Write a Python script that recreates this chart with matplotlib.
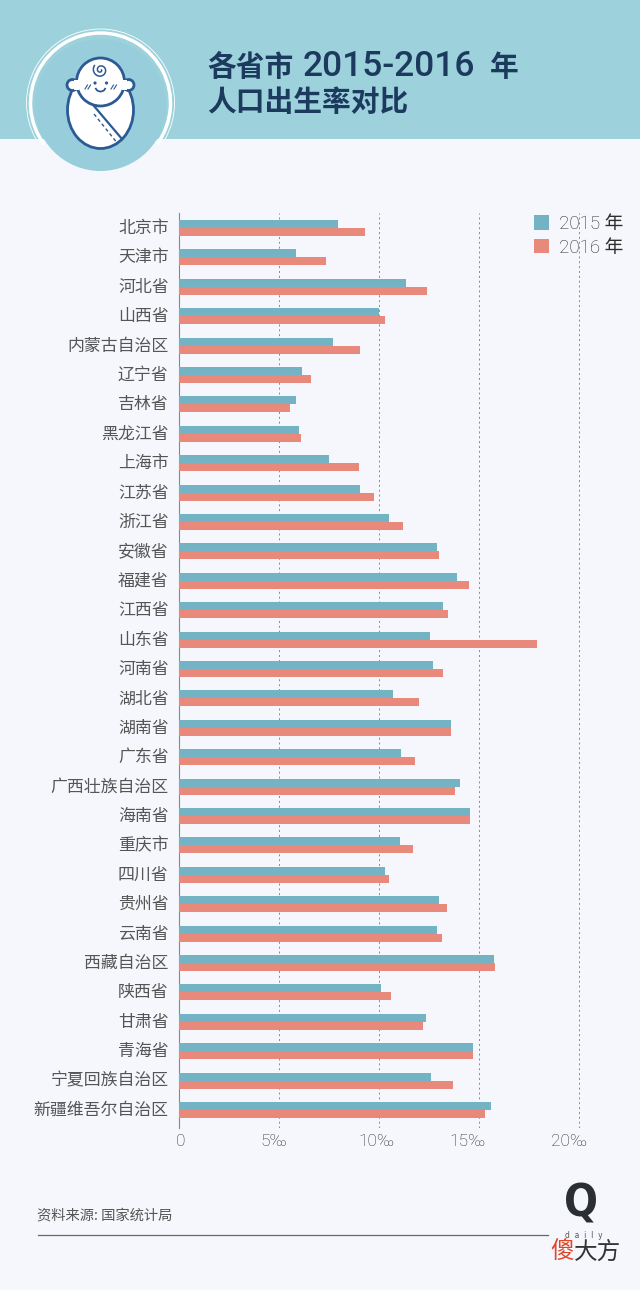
import numpy as np
import matplotlib
matplotlib.use("Agg")
import matplotlib.pyplot as plt
from matplotlib.patches import Rectangle, Circle, Ellipse, Arc
from matplotlib.transforms import ScaledTranslation

plt.rcParams['font.family'] = ['Noto Sans CJK SC', 'DejaVu Sans']

provinces = ["北京市", "天津市", "河北省", "山西省", "内蒙古自治区", "辽宁省", "吉林省", "黑龙江省",
             "上海市", "江苏省", "浙江省", "安徽省", "福建省", "江西省", "山东省", "河南省",
             "湖北省", "湖南省", "广东省", "广西壮族自治区", "海南省", "重庆市", "四川省", "贵州省",
             "云南省", "西藏自治区", "陕西省", "甘肃省", "青海省", "宁夏回族自治区", "新疆维吾尔自治区"]
rate_2015 = [7.95, 5.83, 11.35, 10.0, 7.72, 6.17, 5.87, 6.0, 7.5, 9.05, 10.5, 12.9, 13.9, 13.2, 12.55, 12.7,
             10.7, 13.6, 11.1, 14.05, 14.55, 11.05, 10.3, 13.0, 12.9, 15.75, 10.1, 12.35, 14.7, 12.6, 15.6]
rate_2016 = [9.3, 7.35, 12.4, 10.3, 9.03, 6.6, 5.55, 6.1, 9.0, 9.75, 11.2, 13.0, 14.5, 13.45, 17.9, 13.2,
             12.0, 13.6, 11.8, 13.8, 14.55, 11.7, 10.5, 13.4, 13.15, 15.8, 10.6, 12.2, 14.7, 13.7, 15.3]
tick_values = [0, 5, 10, 15, 20]
tick_labels = ["0", "5‰", "10‰", "15‰", "20‰"]

BG = "#F5F7FD"
HEADER = "#9DD1DC"
NAVY = "#1C3A5E"
TEAL = "#74B3C3"
SALMON = "#E8897C"
GREY = "#555555"
DARK = "#2E2E2E"
INK = "#2C5A94"
X0 = 179

W, H = 640, 1290
fig = plt.figure(figsize=(W / 100, H / 100), dpi=100, facecolor=BG)

# pixel canvas for the header and footer artwork
bg = fig.add_axes([0, 0, 1, 1], zorder=0)
bg.set_xlim(0, W)
bg.set_ylim(H, 0)
bg.axis("off")
bg.add_patch(Rectangle((0, 0), W, 139, color=HEADER, lw=0))

# baby badge
bg.add_patch(Circle((100.5, 105), 66, color="#98CEDB", lw=0))
bg.add_patch(Arc((100.5, 103), 140, 140, theta1=144, theta2=396, color="white", lw=2.5))
bg.add_patch(Arc((100.5, 103), 148, 148, theta1=150, theta2=390, color="white", lw=0.6))
bg.add_patch(Ellipse((100.5, 110), 66, 77, fc="white", ec=INK, lw=2))
bg.plot([94, 122], [106, 139], color=INK, lw=1.6)
bg.plot([94, 118], [114, 144], color=INK, lw=1, ls=(0, (2.5, 2)))
for ex in (72.5, 128.5):
    bg.add_patch(Circle((ex, 85), 5.5, fc="white", ec=INK, lw=2))
bg.add_patch(Circle((100.5, 82), 24, fc="white", ec=INK, lw=2))
bg.add_patch(Rectangle((74, 80), 5, 10, color="white", lw=0, zorder=3))
bg.add_patch(Rectangle((122, 80), 5, 10, color="white", lw=0, zorder=3))
bg.add_patch(Circle((95, 83), 1.6, color=INK, lw=0, zorder=4))
bg.add_patch(Circle((106.5, 83), 1.6, color=INK, lw=0, zorder=4))
bg.add_patch(Arc((100.5, 87), 10, 9, theta1=10, theta2=170, color=INK, lw=1.3, zorder=4))
t = np.linspace(0, 3.2 * np.pi, 60)
bg.plot(100.5 + (1 + 0.65 * t) * np.cos(t), 70 + (1 + 0.65 * t) * np.sin(t), color=INK, lw=1.1, zorder=4)
for sx in (85, 111):
    bg.plot([sx, sx + 2.5], [89, 85], color=INK, lw=0.8, zorder=4)
    bg.plot([sx + 3, sx + 5.5], [89, 85], color=INK, lw=0.8, zorder=4)

# the title mixes wide latin digits with CJK, so it is set in three runs
bg.text(207, 67, "各省市", fontsize=20.7, fontweight="bold", color=NAVY, va="center", ha="left")
bg.text(303, 66, "2015-2016", fontsize=25.5, fontweight="medium", color=NAVY, va="center", ha="left",
        family=["Roboto", "DejaVu Sans"])
bg.text(490, 67, "年", fontsize=20.7, fontweight="bold", color=NAVY, va="center", ha="left")
bg.text(207, 102, "人口出生率对比", fontsize=20.7, fontweight="bold", color=NAVY, va="center", ha="left")

# footer
bg.text(37, 1216, "资料来源: 国家统计局", fontsize=10.3, color=GREY, va="center", ha="left", fontweight="light")
bg.plot([38, 548], [1234.5, 1234.5], color="#666666", lw=0.9)
bg.text(581, 1204, "Q", fontsize=32, fontweight="bold", fontstretch="condensed", color="#2B2F33",
        va="center", ha="center", family="DejaVu Sans")
bg.text(584, 1236, "d  a  i  l  y", fontsize=5.5, color="#555555", va="center", ha="center", family="DejaVu Sans")
bg.text(550, 1252, "傻", fontsize=17, color="#E0462A", va="center", ha="left")
bg.text(573.5, 1252, "大方", fontsize=17, color="#333333", va="center", ha="left")

# chart, placed so that 0 sits at x=X0 and one unit is 20 px
ax = fig.add_axes([X0 / W, 1 - 1128 / H, 1 - X0 / W, 915 / H], zorder=1)
ax.patch.set_alpha(0)
row_px = 29.4
bar_h = 8 / row_px
y = np.arange(len(provinces))
ax.barh(y - bar_h / 2, rate_2015, height=bar_h, color=TEAL, label="2015 年", zorder=3)
ax.barh(y + bar_h / 2, rate_2016, height=bar_h, color=SALMON, label="2016 年", zorder=3)
ax.set_xlim(0, (W - X0) / 20)
ax.set_ylim((1128 - 228) / row_px, (213 - 228) / row_px)

ax.set_yticks(y, provinces, fontsize=12.2, color=GREY, fontweight="light")
ax.set_xticks(tick_values, tick_labels, fontsize=12.5, color=DARK, fontweight="light",
              family=["Roboto", "DejaVu Sans"])
ax.tick_params(axis="y", length=0, pad=7.5)
ax.tick_params(axis="x", length=0, pad=4)
# the percent labels in the source sit a little left of their gridlines
for lab, dx in zip(ax.get_xticklabels(), [2, -5, -3, -11, -10]):
    lab.set_transform(lab.get_transform() + ScaledTranslation(dx / 100, 0, fig.dpi_scale_trans))
for lab in ax.get_yticklabels():
    lab.set_transform(lab.get_transform() + ScaledTranslation(0, 2 / 100, fig.dpi_scale_trans))

ax.grid(axis="x", color="#888888", lw=0.7, ls=(0, (2, 3)), zorder=1)
ax.grid(axis="y", visible=False)
for side in ("top", "right", "bottom"):
    ax.spines[side].set_visible(False)
ax.spines["left"].set_color("#888888")
ax.spines["left"].set_linewidth(0.8)

leg = ax.legend(loc="upper left", bbox_to_anchor=((534 - X0) / (W - X0), 1 - 2 / 915), frameon=False,
                fontsize=13.5, handlelength=0.78, handleheight=0.78, handletextpad=0.55, labelspacing=0.3,
                borderpad=0, borderaxespad=0)
for txt in leg.get_texts():
    txt.set_color(DARK)
    txt.set_fontfamily(["Roboto", "Noto Sans CJK SC"])
    txt.set_fontweight("light")

fig.savefig("out.png", dpi=100, facecolor=BG)
